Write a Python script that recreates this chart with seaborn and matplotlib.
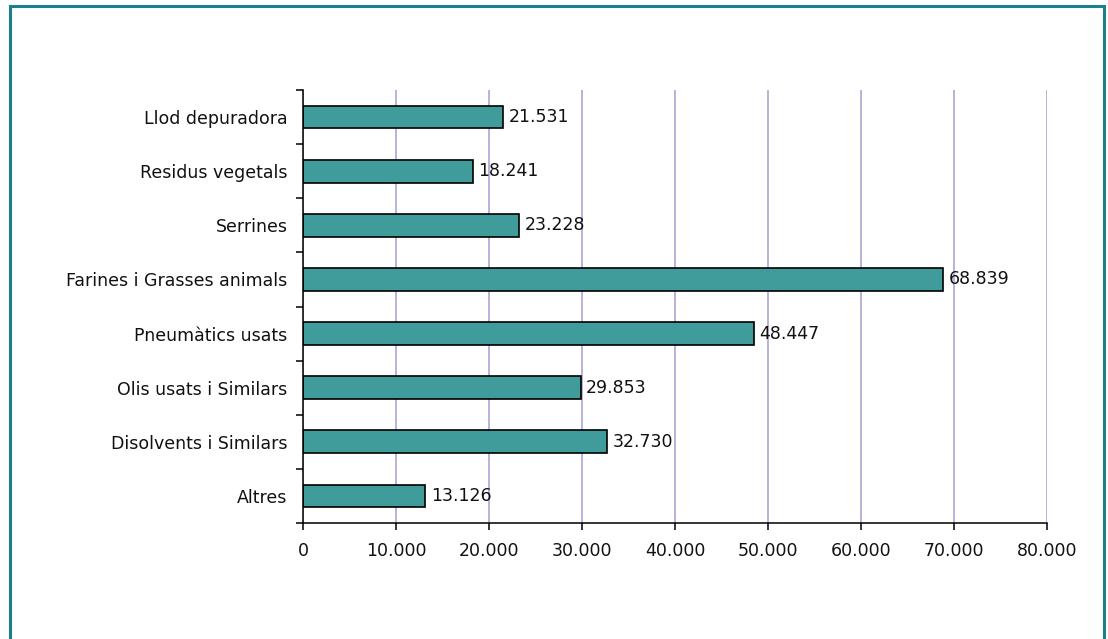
import matplotlib
matplotlib.use("Agg")
import matplotlib.pyplot as plt
import seaborn as sns
import pandas as pd
from matplotlib.patches import Rectangle
from matplotlib.ticker import FuncFormatter, FixedLocator

categories = ["Llod depuradora", "Residus vegetals", "Serrines",
              "Farines i Grasses animals", "Pneumàtics usats",
              "Olis usats i Similars", "Disolvents i Similars", "Altres"]
values = [21531, 18241, 23228, 68839, 48447, 29853, 32730, 13126]
x_ticks = [0, 10000, 20000, 30000, 40000, 50000, 60000, 70000, 80000]

def fmt(v):
    return f"{int(v):,}".replace(",", ".")

sns.set_theme(style="white")
plt.rcParams['font.family'] = ['DejaVu Sans']

FS = 12.5
df = pd.DataFrame({"cat": categories, "val": values})

fig = plt.figure(figsize=(11.08, 6.39), dpi=100)
ax = fig.add_axes([303/1108, 1-523/639, (1047-303)/1108, (523-90)/639])

sns.barplot(data=df, y="cat", x="val", orient="h", ax=ax, color="#3f9c9a",
            saturation=1, edgecolor="black", linewidth=1.2, width=0.42)

ax.set_xlim(0, 80000)
ax.set_ylim(len(categories)-0.5, -0.5)
ax.set_xticks(x_ticks)
ax.xaxis.set_major_formatter(FuncFormatter(lambda v, p: fmt(v)))
ax.grid(axis="x", color="#a99bd0", linewidth=1.1)
ax.set_axisbelow(True)
ax.set_xlabel("")
ax.set_ylabel("")

for s in ["top", "right"]:
    ax.spines[s].set_visible(False)
for s in ["left", "bottom"]:
    ax.spines[s].set_color("black")
    ax.spines[s].set_linewidth(1.1)

ax.tick_params(axis="y", which="major", length=0, pad=11, labelsize=FS, labelcolor="#111111")
ax.yaxis.set_minor_locator(FixedLocator([i - 0.5 for i in range(len(categories)+1)]))
ax.tick_params(axis="y", which="minor", length=5, width=1.1, color="black", direction="out", left=True)
ax.tick_params(axis="x", which="major", length=5, width=1.1, color="black", direction="out",
               bottom=True, pad=9, labelsize=FS, labelcolor="#111111")

for i, v in enumerate(values):
    ax.text(v + 600, i, fmt(v), va="center", ha="left", fontsize=FS, color="#111111")

fig.patches.append(Rectangle((10/1108, -0.05), (1104-10)/1108, 1 - 6/639 + 0.05,
                             transform=fig.transFigure, fill=False,
                             edgecolor="#1b7f8c", linewidth=2.2))

fig.savefig("out.png", dpi=100)
